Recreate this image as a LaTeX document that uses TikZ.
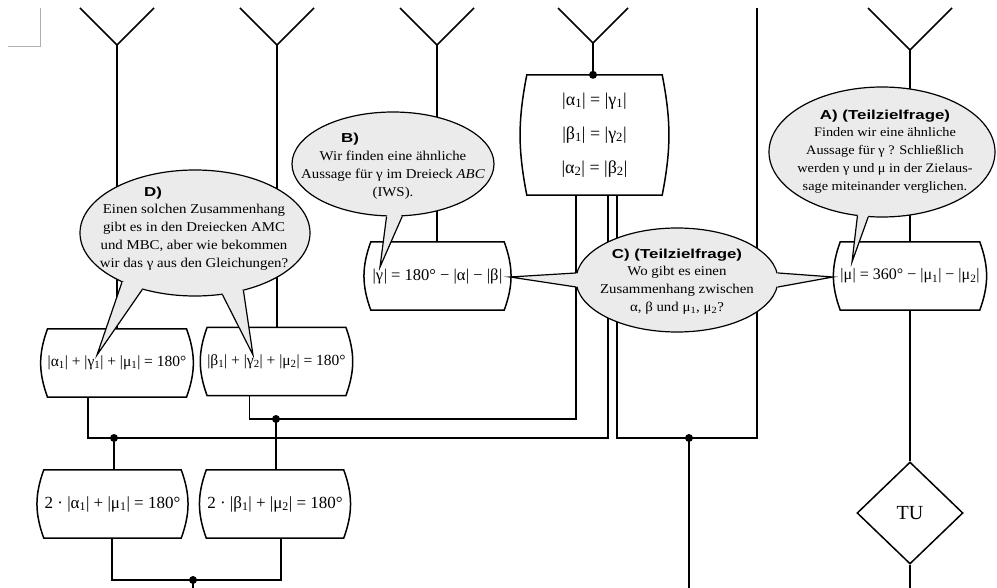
\documentclass[tikz,border=0pt]{standalone}
\usepackage{fontspec}
\setmainfont{Liberation Serif}
\newfontfamily\bubfont[FakeStretch=1.1]{Liberation Serif}
\newfontfamily\headfont[FakeStretch=1.3]{Liberation Sans}
\usetikzlibrary{shapes.geometric,positioning,calc}
\definecolor{bubblegray}{HTML}{EBEBEB}
\definecolor{cropgray}{HTML}{B0B0B0}
\newcommand{\bet}[2]{|#1\textsubscript{#2}|}

\begin{document}
\begin{tikzpicture}[x=1pt, y=-1pt,
  wire/.style={line width=1.5pt},
  eqline/.style={line width=1.5pt},
  eqbox/.style={inner sep=0pt, minimum width=137pt, minimum height=68pt},
  bubble/.style={ellipse, draw, line width=1.2pt, fill=bubblegray, inner sep=0pt},
  bubline/.style={line width=1.2pt},
  bubtext/.style={align=center, inner sep=0pt, font=\bubfont\fontsize{13.5}{18}\selectfont},
  headtext/.style={inner sep=0pt, font=\headfont\bfseries\fontsize{13}{15}\selectfont},
  decision/.style={diamond, draw, line width=1.5pt, minimum width=106pt, minimum height=102pt,
                   inner sep=0pt, font=\fontsize{20}{22}\selectfont}]
\useasboundingbox (0,0) rectangle (997,588);

\draw[cropgray, line width=1pt] (40,8) -- (40,47) -- (8,47);

\node[eqbox, font=\fontsize{15.5}{18}\selectfont] (e1) at (117,363) {\bet{α}{1} + \bet{γ}{1} + \bet{μ}{1} = 180°};
\node[eqbox, font=\fontsize{15.5}{18}\selectfont] (e2) at (276.5,361.5) {\bet{β}{1} + \bet{γ}{2} + \bet{μ}{2} = 180°};
\node[eqbox, font=\fontsize{17}{20}\selectfont] (e3) at (112.5,504) {2 · \bet{α}{1} + \bet{μ}{1} = 180°};
\node[eqbox, font=\fontsize{17}{20}\selectfont] (e4) at (275,504) {2 · \bet{β}{1} + \bet{μ}{2} = 180°};
\node[eqbox, minimum width=133pt, font=\fontsize{16.5}{20}\selectfont] (eg) at (437.5,276) {\bet{γ}{} = 180° − \bet{α}{} − \bet{β}{}};
\node[eqbox, minimum width=136pt, font=\fontsize{16}{20}\selectfont] (em) at (910,276) {\bet{μ}{} = 360° − \bet{μ}{1} − \bet{μ}{2}};
\node[eqbox, minimum width=135pt, minimum height=120pt, align=center, font=\fontsize{18}{34}\selectfont] (ea) at (594.5,135)
  {\bet{α}{1} = \bet{γ}{1}\\ \bet{β}{1} = \bet{γ}{2}\\ \bet{α}{2} = \bet{β}{2}};
\node[decision] (tu) at (910,513) {TU};

\foreach \x/\y [count=\i] in {117/45,277/45,437/45,593/43,910/50} {
  \coordinate (f\i) at (\x,\y);
  \draw[wire] ({\x-\y+8},8) -- (f\i) -- ({\x+\y-8},8);
}
\coordinate (j0) at (f4 |- ea.north);
\coordinate (j1) at (114,438);
\coordinate (j2) at (276,419);
\coordinate (j3) at (193,580);
\coordinate (j4) at (689,438);
\coordinate (r0) at (757,8);
\coordinate (b3) at (193,588);
\coordinate (b4) at (689,588);
\coordinate (b5) at (910,588);

\draw[wire] (f1) -- (e1);
\draw[wire] (f2) -- (f2 |- e2.north);
\draw[wire] (f3) -- (f3 |- eg.north);
\draw[wire] (f4) -- (j0);
\draw[wire] (f5) -- (em);
\draw[wire] (em) -- (tu);
\draw[wire] (tu) -- (b5);
\draw[wire] ([xshift=-18.5pt]ea.south) |- (j2) -| ([xshift=-27pt]e2.south);
\draw[wire] ([xshift=13.5pt]ea.south) |- (j1) -| ([xshift=-29pt]e1.south);
\draw[wire] ([xshift=22.5pt]ea.south) |- (j4) -| (r0);
\draw[wire] (j1) -- (j1 |- e3.north);
\draw[wire] (j2) -- (j2 |- e4.north);
\draw[wire] (j4) -- (b4);
\draw[wire] ([xshift=-0.5pt]e3.south) |- (j3) -| ([xshift=6pt]e4.south);
\draw[wire] (j3) -- (b3);

\foreach \n/\b in {e1/20,e2/20,e3/20,e4/20,eg/20,em/20,ea/11}
  \draw[eqline] (\n.north west) -- (\n.north east) to[bend left=\b] (\n.south east)
    -- (\n.south west) to[bend left=\b] (\n.north west) -- cycle;
\foreach \j in {j0,j1,j2,j3,j4}
  \fill (\j) circle (4pt);

\node[bubble, minimum width=226pt, minimum height=130pt] (bA) at (882,152) {};
\node[bubble, minimum width=202pt, minimum height=104pt] (bB) at (393,164) {};
\node[bubble, minimum width=202pt, minimum height=104pt] (bC) at (677,280) {};
\node[bubble, minimum width=230pt, minimum height=126pt] (bD) at (195,233) {};
\coordinate (pA) at (852,262);
\coordinate (pB) at (380,267);
\coordinate (pC1) at (510,277);
\coordinate (pC2) at (833,277);
\coordinate (pD1) at (97,355);
\coordinate (pD2) at (253,355);
\foreach \b/\s/\e/\m/\p in {bA/249/258/254/pA, bB/263/280/271/pB, bC/176/184/180/pC1,
                            bC/356/4/0/pC2, bD/214/227/220/pD1, bD/294/310/302/pD2} {
  \fill[bubblegray] (\b.\s) -- (\p) -- (\b.\e) -- ($(\b.center)!.85!(\b.\m)$) -- cycle;
  \draw[bubline] (\b.\s) -- (\p) -- (\b.\e);
}

\node[bubtext, font=\bubfont\fontsize{13}{18}\selectfont] (tA) at (885,160) {Finden wir eine ähnliche\\Aussage für γ ? Schließlich\\werden γ und μ in der Zielaus-\\sage miteinander verglichen.};
\node[headtext, above=4pt of tA] (hA) {A) (Teilzielfrage)};
\node[bubtext] (tB) at (393,175) {Wir finden eine ähnliche\\Aussage für γ im Dreieck \textit{ABC}\\(IWS).};
\node[headtext, above=5pt of tB, xshift=-43pt] (hB) {B)};
\node[bubtext] (tC) at (677,290) {Wo gibt es einen\\Zusammenhang zwischen\\α, β und μ\textsubscript{1}, μ\textsubscript{2}?};
\node[headtext, above=4pt of tC] (hC) {C) (Teilzielfrage)};
\node[bubtext] (tD) at (194,237) {Einen solchen Zusammenhang\\gibt es in den Dreiecken AMC\\und MBC, aber wie bekommen\\wir das γ aus den Gleichungen?};
\node[headtext, above=4pt of tD, xshift=-41pt] (hD) {D)};
\end{tikzpicture}
\end{document}
